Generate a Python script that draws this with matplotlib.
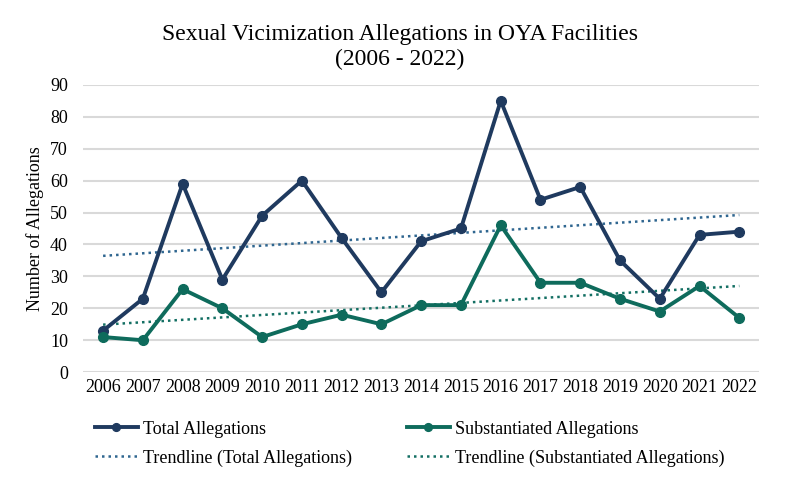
import matplotlib.pyplot as plt
import numpy as np

plt.rcParams['font.family'] = ['Liberation Serif', 'DejaVu Serif']

# -------------------- data --------------------
years = list(range(2006, 2023))
total = [13, 23, 59, 29, 49, 60, 42, 25, 41, 45, 85, 54, 58, 35, 23, 43, 44]
substantiated = [11, 10, 26, 20, 11, 15, 18, 15, 21, 21, 46, 28, 28, 23, 19, 27, 17]

navy = '#1f3a5f'
teal = '#0e6b5c'
navy_trend = '#2f6690'
teal_trend = '#136f63'

x = np.arange(len(years))

fig = plt.figure(figsize=(8, 4.79), dpi=100)
ax = fig.add_axes([0.104, 0.223, 0.845, 0.6])

ax.plot(x, total, color=navy, lw=2.8, marker='o', ms=7, label='Total Allegations', zorder=3)
ax.plot(x, substantiated, color=teal, lw=2.8, marker='o', ms=7, label='Substantiated Allegations', zorder=3)

# linear trendlines
fit_t = np.polyfit(x, total, 1)
fit_s = np.polyfit(x, substantiated, 1)
ax.plot(x, np.polyval(fit_t, x), color=navy_trend, lw=1.8, ls=(0, (1, 1.6)),
        label='Trendline (Total Allegations)', zorder=2)
ax.plot(x, np.polyval(fit_s, x), color=teal_trend, lw=1.8, ls=(0, (1, 1.6)),
        label='Trendline (Substantiated Allegations)', zorder=2)

ax.set_xlim(-0.5, len(years) - 0.5)
ax.set_ylim(0, 90)
ax.set_yticks(range(0, 91, 10))
ax.set_xticks(x)
ax.set_xticklabels([str(y) for y in years])
ax.tick_params(length=0, labelsize=13, pad=5)
ax.tick_params(axis='y', pad=11)
ax.grid(axis='y', color='#d9d9d9', lw=1.5)
ax.set_axisbelow(True)
for s in ax.spines.values():
    s.set_visible(False)

ax.set_ylabel('Number of Allegations', fontsize=13, labelpad=4)
fig.suptitle('Sexual Vicimization Allegations in OYA Facilities\n(2006 - 2022)',
             fontsize=17, y=0.95, linespacing=1.25)

# legend order: Total, Substantiated / Trend total, Trend subst (row-wise)
h, l = ax.get_legend_handles_labels()
order = [0, 2, 1, 3]
fig.legend([h[i] for i in order], [l[i] for i in order], ncol=2,
           loc='lower left', bbox_to_anchor=(0.098, -0.008), frameon=False,
           fontsize=13, handlelength=2.4, handletextpad=0.3,
           columnspacing=3.0, labelspacing=0.65, markerscale=0.8)

fig.savefig('out.png', dpi=100)
